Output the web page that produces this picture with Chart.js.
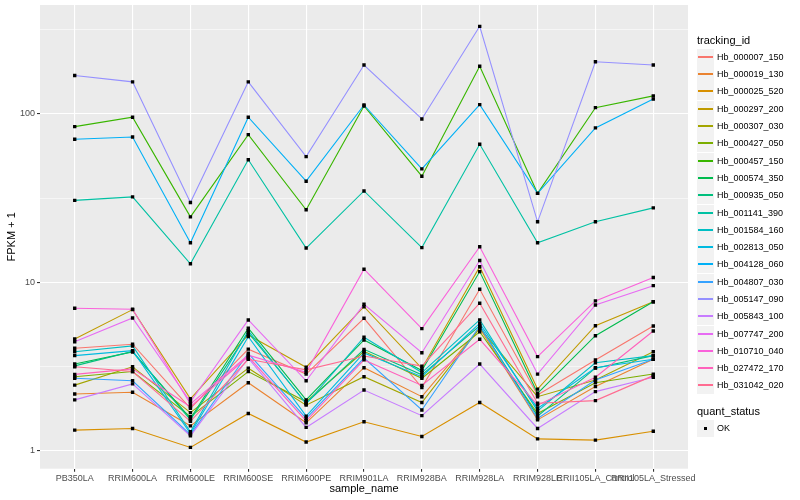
<!doctype html>
<head>
<style>
* {
    box-sizing: border-box;
    margin: 0;
    padding: 0;
}
body {
    width: 800px;
    height: 500px;
    position: relative;
    overflow: hidden;
    background: #fff;
    font-family: 'Liberation Sans', Arial, sans-serif;
}
canvas {
    position: absolute;
    left: 0;
    top: 0;
}
#legend {
    position: absolute;
    left: 0;
    top: 0;
    color: #000;
}
.ttl {
    position: absolute;
    left: 697px;
    font-size: 11px;
    line-height: 13px;
    white-space: nowrap;
}
.key {
    position: absolute;
    left: 697px;
    width: 17px;
    height: 17px;
    background: #F2F2F2;
}
.key i {
    position: absolute;
    left: 1px;
    right: 1px;
    top: 7px;
    height: 2px;
}
.key b {
    position: absolute;
    left: 7px;
    top: 7px;
    width: 3px;
    height: 3px;
    background: #000;
}
.lab {
    position: absolute;
    left: 717px;
    font-size: 9px;
    line-height: 11px;
    white-space: nowrap;
}
</style>
</head>
<canvas width="800" height="500"></canvas>
<div id="legend"></div>
<script src="https://cdn.jsdelivr.net/npm/chart.js"></script>
<script>

const categories = ['PB350LA', 'RRIM600LA', 'RRIM600LE', 'RRIM600SE', 'RRIM600PE', 'RRIM901LA',
    'RRIM928BA', 'RRIM928LA', 'RRIM928LE', 'RRII105LA_Control', 'RRII105LA_Stressed']

// FPKM + 1 per tracking_id, in category order
const hb_000007_150 = [4.07, 4.30, 1.79, 4.02, 2.86, 6.13, 2.38, 9.11, 2.15, 3.47, 5.52]
const hb_000019_130 = [2.18, 2.23, 1.41, 2.54, 1.47, 3.12, 2.10, 5.35, 1.53, 2.41, 3.50]
const hb_000025_520 = [1.33, 1.36, 1.05, 1.67, 1.13, 1.49, 1.22, 1.94, 1.18, 1.16, 1.31]
const hb_000297_200 = [4.62, 6.90, 2.04, 4.88, 3.14, 7.18, 3.09, 12.4, 2.33, 5.54, 7.69]
const hb_000307_030 = [2.46, 3.16, 1.69, 3.10, 1.87, 2.76, 1.94, 5.35, 2.10, 2.64, 3.88]
const hb_000427_050 = [2.76, 2.96, 1.60, 2.96, 1.96, 3.90, 2.70, 5.10, 1.67, 2.54, 2.86]
const hb_000457_150 = [84.1, 95.6, 24.5, 75.4, 27.0, 111.5, 42.7, 192, 33.8, 109, 128]
const hb_000574_350 = [3.28, 3.87, 1.56, 5.35, 2.01, 4.56, 3.00, 11.6, 2.20, 4.83, 7.69]
const hb_000935_050 = [3.20, 3.90, 1.53, 5.04, 1.92, 4.01, 2.83, 5.52, 1.61, 3.10, 3.68]
const hb_001141_390 = [30.7, 32.2, 12.9, 53.5, 16.0, 34.9, 16.1, 66.1, 17.2, 22.9, 27.7]
const hb_001584_160 = [3.88, 4.20, 1.30, 5.17, 1.90, 4.73, 2.92, 5.99, 1.73, 3.34, 3.68]
const hb_002813_050 = [3.68, 3.94, 1.27, 4.77, 1.61, 3.82, 2.76, 5.72, 1.79, 3.12, 3.50]
const hb_004128_060 = [70.8, 73.0, 17.2, 95.6, 39.9, 113, 47.2, 113.6, 33.8, 82.6, 122.7]
const hb_004807_030 = [2.70, 2.61, 1.25, 3.80, 1.56, 3.56, 1.75, 5.52, 1.56, 2.64, 3.50]
const hb_005147_090 = [169, 155, 29.8, 155, 55.8, 195, 93.4, 331, 22.9, 204, 195]
const hb_005843_100 = [2.01, 2.50, 1.23, 3.55, 1.38, 2.30, 1.62, 3.28, 1.36, 2.25, 2.74]
const hb_007747_200 = [4.45, 6.15, 1.96, 5.99, 2.61, 7.42, 3.83, 13.5, 2.86, 7.35, 9.57]
const hb_010710_040 = [7.03, 6.93, 1.90, 3.70, 2.93, 11.98, 5.32, 16.3, 3.63, 7.77, 10.7]
const hb_027472_170 = [2.85, 3.07, 1.83, 3.63, 1.51, 3.47, 2.45, 4.60, 1.87, 2.74, 5.15]
const hb_031042_020 = [3.16, 2.96, 1.50, 3.50, 3.03, 3.66, 3.19, 7.53, 1.92, 1.99, 2.80]

const seriesNames = ['Hb_000007_150', 'Hb_000019_130', 'Hb_000025_520', 'Hb_000297_200', 'Hb_000307_030',
    'Hb_000427_050', 'Hb_000457_150', 'Hb_000574_350', 'Hb_000935_050', 'Hb_001141_390',
    'Hb_001584_160', 'Hb_002813_050', 'Hb_004128_060', 'Hb_004807_030', 'Hb_005147_090',
    'Hb_005843_100', 'Hb_007747_200', 'Hb_010710_040', 'Hb_027472_170', 'Hb_031042_020']
const seriesValues = [hb_000007_150, hb_000019_130, hb_000025_520, hb_000297_200, hb_000307_030,
    hb_000427_050, hb_000457_150, hb_000574_350, hb_000935_050, hb_001141_390,
    hb_001584_160, hb_002813_050, hb_004128_060, hb_004807_030, hb_005147_090,
    hb_005843_100, hb_007747_200, hb_010710_040, hb_027472_170, hb_031042_020]
const seriesColors = ['#F8766D', '#EA8331', '#D89000', '#C09B00', '#A3A500', '#7CAE00', '#39B600',
    '#00BB4E', '#00BF7D', '#00C1A3', '#00BFC4', '#00BAE0', '#00B0F6', '#35A2FF', '#9590FF',
    '#C77CFF', '#E76BF3', '#FA62DB', '#FF62BC', '#FF6C91']

const yTicks = [1, 10, 100]
const yMinorTicks = [3.162, 31.62, 316.2]

const font = "'Liberation Sans', Arial, sans-serif"

// legend (html), rows every 17.3px
let legend = document.getElementById('legend')
let html = '<div class="ttl" style="top:34px">tracking_id</div>'
seriesNames.forEach((name, i) => {
    let c = 48.65 + i * 17.3 + 8.65
    html += `<div class="key" style="top:${Math.round(c - 8.5)}px"><i style="background-color:${seriesColors[i]}"></i></div>`
    html += `<span class="lab" style="top:${Math.round(c - 5.5)}px">${name}</span>`
})
html += '<div class="ttl" style="top:405px">quant_status</div>'
html += '<div class="key" style="top:420px"><b></b></div><span class="lab" style="top:423px">OK</span>'
legend.innerHTML = html

let datasets = []
seriesValues.forEach((vals, i) => {
    datasets.push({
        label: seriesNames[i],
        data: vals.map((v, j) => ({ x: j, y: v })),
        borderColor: seriesColors[i],
        borderWidth: 1.1,
        pointRadius: 0,
        tension: 0,
        order: 20 - i,
    })
})
seriesValues.forEach((vals, i) => {
    datasets.push({
        label: seriesNames[i] + ' points',
        data: vals.map((v, j) => ({ x: j, y: v })),
        showLine: false,
        pointStyle: 'rect',
        pointRadius: 2.4,
        pointBackgroundColor: '#000',
        pointBorderColor: '#000',
        pointBorderWidth: 0,
        order: 0,
    })
})

const panelBg = {
    id: 'panelBg',
    beforeDraw(chart) {
        let { ctx, chartArea: a } = chart
        ctx.save()
        ctx.fillStyle = '#EBEBEB'
        ctx.fillRect(a.left, a.top, a.right - a.left, a.bottom - a.top)
        ctx.restore()
    },
}

let chart = new Chart(document.querySelector('canvas'), {
    type: 'line',
    data: { datasets },
    plugins: [panelBg],
    options: {
        responsive: false,
        animation: false,
        layout: { padding: { left: 0, right: 112, top: 5, bottom: 0 } },
        scales: {
            x: {
                type: 'linear',
                min: -0.6,
                max: 10.6,
                afterBuildTicks: s => { s.ticks = categories.map((c, i) => ({ value: i })) },
                afterFit: s => {
                    s.height = 31.3
                    s.paddingLeft = 0
                    s.paddingRight = 0
                },
                ticks: {
                    callback: v => categories[v],
                    autoSkip: false,
                    maxRotation: 0,
                    minRotation: 0,
                    color: '#4D4D4D',
                    font: { family: font, size: 9 },
                    padding: 1,
                },
                grid: { color: '#FFFFFF', lineWidth: 1.1, tickColor: '#333333', tickLength: 3 },
                border: { display: false },
                title: {
                    display: true,
                    text: 'sample_name',
                    color: '#000',
                    font: { family: font, size: 11, lineHeight: 1.2 },
                    padding: { top: 0, bottom: 4.7 },
                },
            },
            y: {
                type: 'logarithmic',
                min: 0.785,
                max: 443,
                afterBuildTicks: s => {
                    s.ticks = yTicks.concat(yMinorTicks).sort((a, b) => a - b).map(v => ({ value: v }))
                },
                afterFit: s => {
                    s.width = 40
                    s.paddingTop = 0
                    s.paddingBottom = 0
                },
                ticks: {
                    callback: v => yTicks.includes(v) ? String(v) : '',
                    autoSkip: false,
                    color: '#4D4D4D',
                    font: { family: font, size: 9 },
                    padding: 2,
                },
                grid: {
                    color: '#FFFFFF',
                    lineWidth: c => (c.tick && yTicks.includes(c.tick.value)) ? 1.1 : 0.55,
                    tickColor: c => (c.tick && yTicks.includes(c.tick.value)) ? '#333333' : 'rgba(0,0,0,0)',
                    tickLength: 3,
                },
                border: { display: false },
                title: {
                    display: true,
                    text: 'FPKM + 1',
                    color: '#000',
                    font: { family: font, size: 11, lineHeight: 1.2 },
                    padding: { top: 5.4, bottom: 0 },
                },
            },
        },
        plugins: {
            legend: { display: false },
            tooltip: { enabled: false },
        },
    },
})

</script>
